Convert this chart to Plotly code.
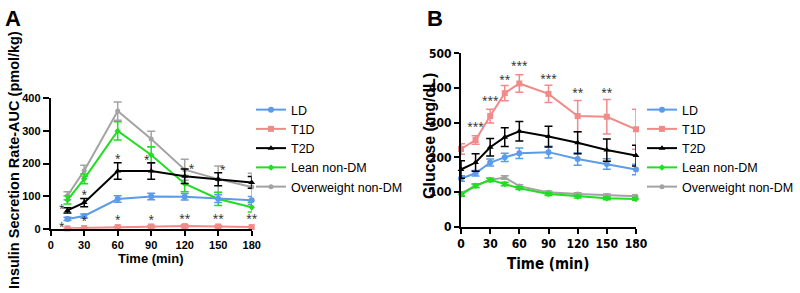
import plotly.graph_objects as go

W, H = 800, 293

# ---------------- Panel A data: Insulin secretion rate AUC ----------------
a_time = [15, 30, 60, 90, 120, 150, 180]
a_ld = [30, 39, 91, 99, 98, 92, 87]
a_ld_err = [5, 6, 10, 10, 10, 12, 12]
a_t1d = [1, 2, 5, 7, 8, 7, 5]
a_t1d_err = [1, 1, 2, 3, 4, 3, 2]
a_t2d = [56, 80, 177, 177, 161, 152, 142]
a_t2d_err = [8, 13, 25, 25, 22, 20, 18]
a_lean = [88, 153, 300, 226, 138, 91, 66]
a_lean_err = [12, 15, 28, 25, 25, 20, 15]
a_ow = [101, 178, 361, 275, 181, 152, 128]
a_ow_err = [12, 17, 28, 24, 32, 40, 42]

a_star_x = [10, 10, 30, 30, 60, 60, 86, 90, 126, 120, 154, 150, 184, 180]
a_star_y = [60, 3, 103, 21, 213, 25, 209, 25, 181, 27, 178, 27, 173, 27]
a_star_t = ["*", "*", "*", "*", "*", "*", "*", "*", "*", "**", "*", "**", "*", "**"]

# ---------------- Panel B data: Glucose ----------------
b_time = [0, 15, 30, 45, 60, 90, 120, 150, 180]
b_ld = [139, 154, 185, 200, 212, 215, 195, 181, 165]
b_ld_err = [8, 8, 10, 12, 15, 17, 18, 15, 15]
b_t1d = [224, 250, 319, 385, 413, 383, 319, 317, 281]
b_t1d_err = [15, 12, 20, 22, 25, 25, 45, 50, 58]
b_t2d = [165, 185, 229, 258, 275, 260, 242, 221, 205]
b_t2d_err = [25, 25, 25, 27, 28, 30, 32, 32, 30]
b_lean = [93, 118, 135, 123, 111, 94, 87, 82, 80]
b_lean_err = [5, 5, 5, 5, 4, 4, 4, 4, 4]
b_ow = [96, 118, 135, 142, 117, 99, 94, 90, 88]
b_ow_err = [5, 5, 5, 5, 4, 4, 4, 4, 4]

b_star_x = [-10, 15, 30, 45, 60, 90, 120, 150]
b_star_y = [250, 287, 360, 421, 462, 425, 383, 383]
b_star_t = ["***", "***", "***", "**", "***", "***", "**", "**"]

names = ["LD", "T1D", "T2D", "Lean non-DM", "Overweight non-DM"]
colors = ["#5b9be8", "#f28a8a", "#000000", "#22dd22", "#a3a3a3"]
symbols = ["circle", "square", "triangle-up", "diamond", "circle"]
sizes = [6, 6, 6, 5, 5]


def px_x(p):
    return p / W


def px_y(p):
    return 1 - p / H


fig = go.Figure()

a_series = [(a_ld, a_ld_err), (a_t1d, a_t1d_err), (a_t2d, a_t2d_err),
            (a_lean, a_lean_err), (a_ow, a_ow_err)]
b_series = [(b_ld, b_ld_err), (b_t1d, b_t1d_err), (b_t2d, b_t2d_err),
            (b_lean, b_lean_err), (b_ow, b_ow_err)]

order = [4, 3, 0, 1, 2]  # drawing order (gray and green underneath)
for i in order:
    y, e = a_series[i]
    fig.add_trace(go.Scatter(
        x=a_time, y=y, name=names[i], mode="lines+markers",
        line=dict(color=colors[i], width=2),
        marker=dict(color=colors[i], symbol=symbols[i], size=sizes[i]),
        error_y=dict(type="data", array=e, visible=True, color=colors[i],
                     thickness=1.5, width=4),
        xaxis="x", yaxis="y", legend="legend", legendrank=i + 1,
        cliponaxis=False))
for i in order:
    y, e = b_series[i]
    fig.add_trace(go.Scatter(
        x=b_time, y=y, name=names[i], mode="lines+markers",
        line=dict(color=colors[i], width=2),
        marker=dict(color=colors[i], symbol=symbols[i], size=sizes[i]),
        error_y=dict(type="data", array=e, visible=True, color=colors[i],
                     thickness=1.5, width=4),
        xaxis="x2", yaxis="y2", legend="legend2", legendrank=i + 1,
        cliponaxis=False))

fig.add_trace(go.Scatter(x=a_star_x, y=a_star_y, text=a_star_t, mode="text",
                         textfont=dict(size=10, color="#222"), showlegend=False,
                         xaxis="x", yaxis="y", cliponaxis=False))
fig.add_trace(go.Scatter(x=b_star_x, y=b_star_y, text=b_star_t, mode="text",
                         textfont=dict(size=10, color="#222"), showlegend=False,
                         xaxis="x2", yaxis="y2", cliponaxis=False))

NARROW = "Liberation Sans Narrow, Arial Narrow, DejaVu Sans Condensed, Liberation Sans"
tickA = dict(family="Liberation Sans, Arial", size=11, color="#000", weight="bold")
tickB = dict(family=NARROW, size=12, color="#000", weight="bold")
axis_common = dict(showline=True, linewidth=2, linecolor="#000", ticks="outside",
                   tickwidth=2, tickcolor="#000", showgrid=False,
                   zeroline=False, fixedrange=True, automargin=False,
                   ticklabeloverflow="allow")


def ann(text, x, y, size, family="Liberation Sans, Arial", angle=0,
        xanchor="center", yanchor="middle"):
    return dict(text=text, x=px_x(x), y=px_y(y), xref="paper", yref="paper",
                xanchor=xanchor, yanchor=yanchor, textangle=angle, showarrow=False,
                font=dict(family=family, size=size, color="#000", weight="bold"))


legend_font = dict(family="Liberation Sans, Arial", size=12.5, color="#000")

fig.update_layout(
    width=W, height=H, autosize=False,
    margin=dict(l=0, r=0, t=0, b=0, pad=0, autoexpand=False),
    paper_bgcolor="white", plot_bgcolor="white",
    xaxis=dict(domain=[px_x(50.7), px_x(251.7)], range=[0, 180], ticklen=5,
               tickvals=[0, 30, 60, 90, 120, 150, 180], tickfont=tickA,
               anchor="y", **axis_common),
    yaxis=dict(domain=[px_y(228.7), px_y(98.3)], range=[0, 400], ticklen=6,
               tickvals=[0, 100, 200, 300, 400], tickfont=tickA,
               anchor="x", **axis_common),
    xaxis2=dict(domain=[px_x(461), px_x(636)], range=[0, 180], ticklen=5,
                tickvals=[0, 30, 60, 90, 120, 150, 180], tickfont=tickB,
                anchor="y2", **axis_common),
    yaxis2=dict(domain=[px_y(226.7), px_y(53.3)], range=[0, 500], ticklen=5,
                tickvals=[0, 100, 200, 300, 400, 500], tickfont=tickB,
                anchor="x2", **axis_common),
    legend=dict(x=px_x(251), y=px_y(95), xanchor="left", yanchor="top",
                font=legend_font, itemwidth=30, tracegroupgap=0,
                bgcolor="rgba(0,0,0,0)"),
    legend2=dict(x=px_x(642), y=px_y(95), xanchor="left", yanchor="top",
                 font=legend_font, itemwidth=30, tracegroupgap=0,
                 bgcolor="rgba(0,0,0,0)"),
    annotations=[
        ann("A", 3, 4, 22, xanchor="left", yanchor="top"),
        ann("B", 425, 4, 22, xanchor="left", yanchor="top"),
        ann("Insulin Secretion Rate-AUC (pmol/kg)", 14, 160, 14.5, angle=-90),
        ann("Time (min)", 151, 258, 13),
        ann("Glucose (mg/dL)", 429, 136, 16, angle=-90),
        ann("Time (min)", 548, 264, 15, family=NARROW),
    ],
)

fig.write_html("out.html", config={"displayModeBar": False},
               post_script="document.body.style.margin='0';"
                           "document.documentElement.style.overflow='hidden';")
